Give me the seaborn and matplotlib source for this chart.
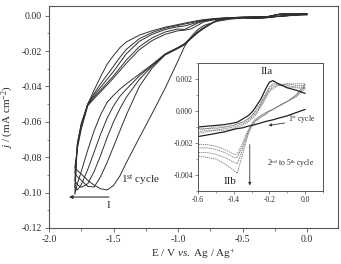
import matplotlib
matplotlib.use("Agg")
import matplotlib.pyplot as plt
from matplotlib.ticker import MultipleLocator, FormatStrFormatter
import pandas as pd
import seaborn as sns

# ---- main plot: potential grid and currents (mA cm-2) of 5 cycles ----
e_main = [0.0, -0.1, -0.2, -0.25, -0.3, -0.4, -0.5, -0.6, -0.7, -0.8, -0.85, -0.9, -0.95,
          -1.0, -1.1, -1.2, -1.3, -1.4, -1.45, -1.5, -1.55, -1.6, -1.65, -1.7, -1.75, -1.78, -1.8]

# cathodic scan (0 -> -1.8 V)
j_fwd_1 = [0.0004, 0.0002, -0.0003, -0.0005, -0.0008, -0.0012, -0.0013, -0.0020, -0.0032, -0.0055,
           -0.0080, -0.0120, -0.0175, -0.0255, -0.0410, -0.0552, -0.0690, -0.0830, -0.0905, -0.0960,
           -0.0985, -0.0978, -0.0958, -0.0930, -0.0895, -0.0875, -0.0860]
j_fwd_2 = [0.0008, 0.0003, -0.0002, -0.0005, -0.0009, -0.0014, -0.0011, -0.0013, -0.0025, -0.0072,
           -0.0098, -0.0130, -0.0165, -0.0185, -0.0222, -0.0295, -0.0400, -0.0560, -0.0650, -0.0740,
           -0.0830, -0.0910, -0.0968, -0.0965, -0.0930, -0.0910, -0.0890]
j_fwd_3 = [0.0009, 0.0003, -0.0002, -0.0005, -0.0010, -0.0015, -0.0011, -0.0014, -0.0026, -0.0070,
           -0.0096, -0.0128, -0.0162, -0.0183, -0.0220, -0.0285, -0.0360, -0.0460, -0.0525, -0.0600,
           -0.0690, -0.0790, -0.0880, -0.0950, -0.0970, -0.0955, -0.0930]
j_fwd_4 = [0.0010, 0.0004, -0.0002, -0.0006, -0.0010, -0.0015, -0.0012, -0.0014, -0.0027, -0.0068,
           -0.0094, -0.0126, -0.0160, -0.0181, -0.0218, -0.0280, -0.0340, -0.0415, -0.0455, -0.0510,
           -0.0580, -0.0670, -0.0770, -0.0870, -0.0955, -0.0985, -0.0970]
j_fwd_5 = [0.0011, 0.0004, -0.0002, -0.0006, -0.0011, -0.0016, -0.0012, -0.0015, -0.0028, -0.0066,
           -0.0092, -0.0124, -0.0158, -0.0179, -0.0216, -0.0275, -0.0330, -0.0385, -0.0415, -0.0450,
           -0.0490, -0.0560, -0.0650, -0.0760, -0.0880, -0.0950, -0.1010]

# anodic scan (values listed on the same grid, 0 -> -1.8 V)
j_rev_1 = [0.0008, 0.0009, 0.0008, 0.0002, -0.0005, -0.0008, -0.0010, -0.0013, -0.0020, -0.0035,
           -0.0055, -0.0075, -0.0082, -0.0085, -0.0105, -0.0140, -0.0192, -0.0268, -0.0310, -0.0352,
           -0.0392, -0.0430, -0.0468, -0.0510, -0.0640, -0.0750, -0.0860]
j_rev_2 = [0.0008, 0.0010, 0.0009, 0.0003, -0.0005, -0.0007, -0.0009, -0.0012, -0.0018, -0.0030,
           -0.0042, -0.0060, -0.0078, -0.0075, -0.0092, -0.0125, -0.0175, -0.0250, -0.0295, -0.0340,
           -0.0380, -0.0420, -0.0460, -0.0505, -0.0630, -0.0740, -0.0890]
j_rev_3 = [0.0009, 0.0011, 0.0010, 0.0003, -0.0005, -0.0007, -0.0009, -0.0012, -0.0017, -0.0027,
           -0.0037, -0.0048, -0.0058, -0.0062, -0.0078, -0.0105, -0.0145, -0.0215, -0.0265, -0.0315,
           -0.0360, -0.0405, -0.0450, -0.0500, -0.0620, -0.0730, -0.0930]
j_rev_4 = [0.0010, 0.0012, 0.0011, 0.0004, -0.0004, -0.0006, -0.0008, -0.0011, -0.0016, -0.0025,
           -0.0032, -0.0040, -0.0047, -0.0055, -0.0070, -0.0095, -0.0130, -0.0190, -0.0235, -0.0285,
           -0.0335, -0.0385, -0.0440, -0.0500, -0.0615, -0.0725, -0.0970]
j_rev_5 = [0.0011, 0.0012, 0.0011, 0.0004, -0.0004, -0.0006, -0.0008, -0.0011, -0.0015, -0.0022,
           -0.0028, -0.0035, -0.0042, -0.0050, -0.0065, -0.0085, -0.0110, -0.0148, -0.0180, -0.0225,
           -0.0275, -0.0345, -0.0420, -0.0500, -0.0610, -0.0720, -0.1010]

# ---- inset: narrow window 0 -> -0.6 V ----
e_ins = [0.0, -0.05, -0.1, -0.15, -0.18, -0.2, -0.22, -0.25, -0.28, -0.3, -0.32, -0.35, -0.38,
         -0.4, -0.45, -0.5, -0.55, -0.6]

i_fwd_1 = [0.0001, -0.0001, -0.0003, -0.00045, -0.00055, -0.0006, -0.00065, -0.00075, -0.00085,
           -0.0009, -0.00095, -0.00105, -0.0011, -0.00115, -0.0013, -0.0014, -0.0015, -0.0016]
i_rev_1 = [0.0011, 0.0013, 0.00145, 0.0017, 0.0019, 0.0018, 0.0014, 0.0007, 0.0002, -0.0001,
           -0.0003, -0.0005, -0.0007, -0.00075, -0.00085, -0.0009, -0.00095, -0.0010]

i_fwd_2 = [0.0014, 0.0009, 0.0006, 0.0003, 0.0001, 0.0000, -0.0001, -0.0003, -0.0005, -0.0008,
           -0.0012, -0.0020, -0.0027, -0.0027, -0.0024, -0.0022, -0.0021, -0.0021]
i_fwd_3 = [0.0015, 0.0009, 0.0006, 0.0003, 0.0001, 0.0000, -0.0001, -0.0003, -0.0006, -0.0009,
           -0.0013, -0.0022, -0.0029, -0.0029, -0.0026, -0.0024, -0.0023, -0.0023]
i_fwd_4 = [0.0016, 0.0010, 0.0006, 0.0003, 0.0001, 0.0000, -0.0002, -0.0004, -0.0006, -0.0009,
           -0.0014, -0.0024, -0.0033, -0.0032, -0.0029, -0.0027, -0.0026, -0.0026]
i_fwd_5 = [0.0017, 0.0010, 0.0006, 0.0003, 0.0001, 0.0000, -0.0002, -0.0004, -0.0007, -0.0010,
           -0.0015, -0.0027, -0.0039, -0.0037, -0.0033, -0.0030, -0.0029, -0.0028]

i_rev_2 = [0.0014, 0.00145, 0.0015, 0.0017, 0.0017, 0.0015, 0.0011, 0.0005, 0.0000, -0.0003,
           -0.0005, -0.0007, -0.0008, -0.0009, -0.0010, -0.0010, -0.0011, -0.0011]
i_rev_3 = [0.0015, 0.0015, 0.0016, 0.0017, 0.0016, 0.0014, 0.0010, 0.0004, -0.0001, -0.0003,
           -0.0005, -0.0007, -0.0008, -0.0009, -0.0010, -0.0011, -0.0011, -0.0012]
i_rev_4 = [0.0016, 0.0016, 0.0017, 0.0016, 0.0015, 0.0013, 0.0009, 0.0003, -0.0002, -0.0004,
           -0.0006, -0.0008, -0.0009, -0.0010, -0.0011, -0.0012, -0.0012, -0.0013]
i_rev_5 = [0.0017, 0.0017, 0.0017, 0.0016, 0.0014, 0.0012, 0.0008, 0.0002, -0.0003, -0.0005,
           -0.0007, -0.0009, -0.0010, -0.0011, -0.0012, -0.0012, -0.0013, -0.0014]


def loops(grid, fwd, rev):
    rows = []
    for n, (f, r) in enumerate(zip(fwd, rev), start=1):
        e = grid + grid[::-1]
        j = f + r[::-1]
        for k, (x, y) in enumerate(zip(e, j)):
            rows.append({"E": x, "j": y, "cycle": n, "step": k})
    return pd.DataFrame(rows)


df_main = loops(e_main, [j_fwd_1, j_fwd_2, j_fwd_3, j_fwd_4, j_fwd_5],
                [j_rev_1, j_rev_2, j_rev_3, j_rev_4, j_rev_5])
df_ins = loops(e_ins, [i_fwd_1, i_fwd_2, i_fwd_3, i_fwd_4, i_fwd_5],
               [i_rev_1, i_rev_2, i_rev_3, i_rev_4, i_rev_5])

sns.set_style("ticks")
plt.rcParams["font.family"] = ["Liberation Serif", "DejaVu Serif"]
plt.rcParams["mathtext.fontset"] = "custom"
plt.rcParams["mathtext.rm"] = "Liberation Serif"
plt.rcParams["mathtext.it"] = "Liberation Serif:italic"
plt.rcParams["axes.unicode_minus"] = False
txt = "#2a2a2a"

fig = plt.figure(figsize=(3.41, 2.64), dpi=100)
ax = fig.add_axes([0.1437, 0.1364, 0.8475, 0.8409])

sns.lineplot(data=df_main, x="E", y="j", units="cycle", estimator=None, sort=False,
             color="#303030", lw=0.7, ax=ax)
ax.set_xlim(-2.0, 0.24)
ax.set_ylim(-0.12, 0.0055)
ax.xaxis.set_major_locator(MultipleLocator(0.5))
ax.xaxis.set_minor_locator(MultipleLocator(0.25))
ax.yaxis.set_major_locator(MultipleLocator(0.02))
ax.yaxis.set_minor_locator(MultipleLocator(0.01))
ax.xaxis.set_major_formatter(FormatStrFormatter("%.1f"))
ax.yaxis.set_major_formatter(FormatStrFormatter("%.2f"))
ax.tick_params(which="major", direction="out", length=3, width=0.6, labelsize=7,
               colors="#555555", labelcolor=txt, pad=2)
ax.tick_params(which="minor", direction="out", length=1.8, width=0.5, colors="#555555")
for s in ax.spines.values():
    s.set_color("#555555")
    s.set_linewidth(0.8)
ax.set_xlabel(r"E / V $\it{vs.}$ Ag / Ag$^{+}$", fontsize=8, color=txt, labelpad=2)
ax.set_ylabel(r"$j$ / (mA cm$^{-2}$)", fontsize=8, color=txt, labelpad=4)

ax.text(-1.445, -0.0929, r"1$^{\rm st}$ cycle", fontsize=8, color=txt, va="center", ha="left")
ax.annotate("", xy=(-1.845, -0.1025), xytext=(-1.535, -0.1025),
            arrowprops=dict(arrowstyle="-|>", color="#303030", lw=0.8,
                            mutation_scale=5, shrinkA=0, shrinkB=0))
ax.text(-1.54, -0.1075, "I", fontsize=8, color=txt, ha="center", va="center")

# inset
axi = fig.add_axes([0.5806, 0.2765, 0.3666, 0.4848])
axi.set_facecolor("white")
sns.lineplot(data=df_ins[df_ins["cycle"] > 1], x="E", y="j", units="cycle", estimator=None,
             sort=False, color="#7a7a7a", lw=0.6, linestyle=(0, (1.6, 0.9)), ax=axi)
sns.lineplot(data=df_ins[df_ins["cycle"] == 1], x="E", y="j", units="cycle", estimator=None,
             sort=False, color="#202020", lw=0.9, ax=axi)
axi.set_xlim(-0.6, 0.1)
axi.set_ylim(-0.005, 0.003)
axi.xaxis.set_major_locator(MultipleLocator(0.2))
axi.xaxis.set_minor_locator(MultipleLocator(0.1))
axi.yaxis.set_major_locator(MultipleLocator(0.002))
axi.yaxis.set_minor_locator(MultipleLocator(0.001))
axi.xaxis.set_major_formatter(FormatStrFormatter("%.1f"))
axi.yaxis.set_major_formatter(FormatStrFormatter("%.3f"))
axi.tick_params(which="major", direction="out", length=2.2, width=0.5, labelsize=5.5,
                colors="#555555", labelcolor=txt, pad=1.5)
axi.tick_params(which="minor", direction="out", length=1.2, width=0.4, colors="#555555")
for s in axi.spines.values():
    s.set_color("#555555")
    s.set_linewidth(0.7)
axi.set_xlabel("")
axi.set_ylabel("")

axi.text(-0.216, 0.00244, "IIa", fontsize=8, color=txt, ha="center", va="center")
axi.text(-0.422, -0.0044, "IIb", fontsize=8, color=txt, ha="center", va="center")
axi.annotate("", xy=(-0.205, -0.0009), xytext=(-0.115, -0.00075),
             arrowprops=dict(arrowstyle="-|>", color="#303030", lw=0.6,
                             mutation_scale=4, shrinkA=0, shrinkB=0))
axi.text(-0.095, -0.00054, r"1$^{\rm st}$ cycle", fontsize=5.5, color=txt, ha="left", va="center")
axi.annotate("", xy=(-0.31, -0.00465), xytext=(-0.31, -0.0021),
             arrowprops=dict(arrowstyle="-|>", color="#303030", lw=0.6,
                             mutation_scale=4, shrinkA=0, shrinkB=0))
axi.text(-0.215, -0.00325, r"2$^{\rm nd}$ to 5$^{\rm th}$ cycle", fontsize=5.5, color=txt,
         ha="left", va="center")

fig.savefig("out.png", dpi=100)
